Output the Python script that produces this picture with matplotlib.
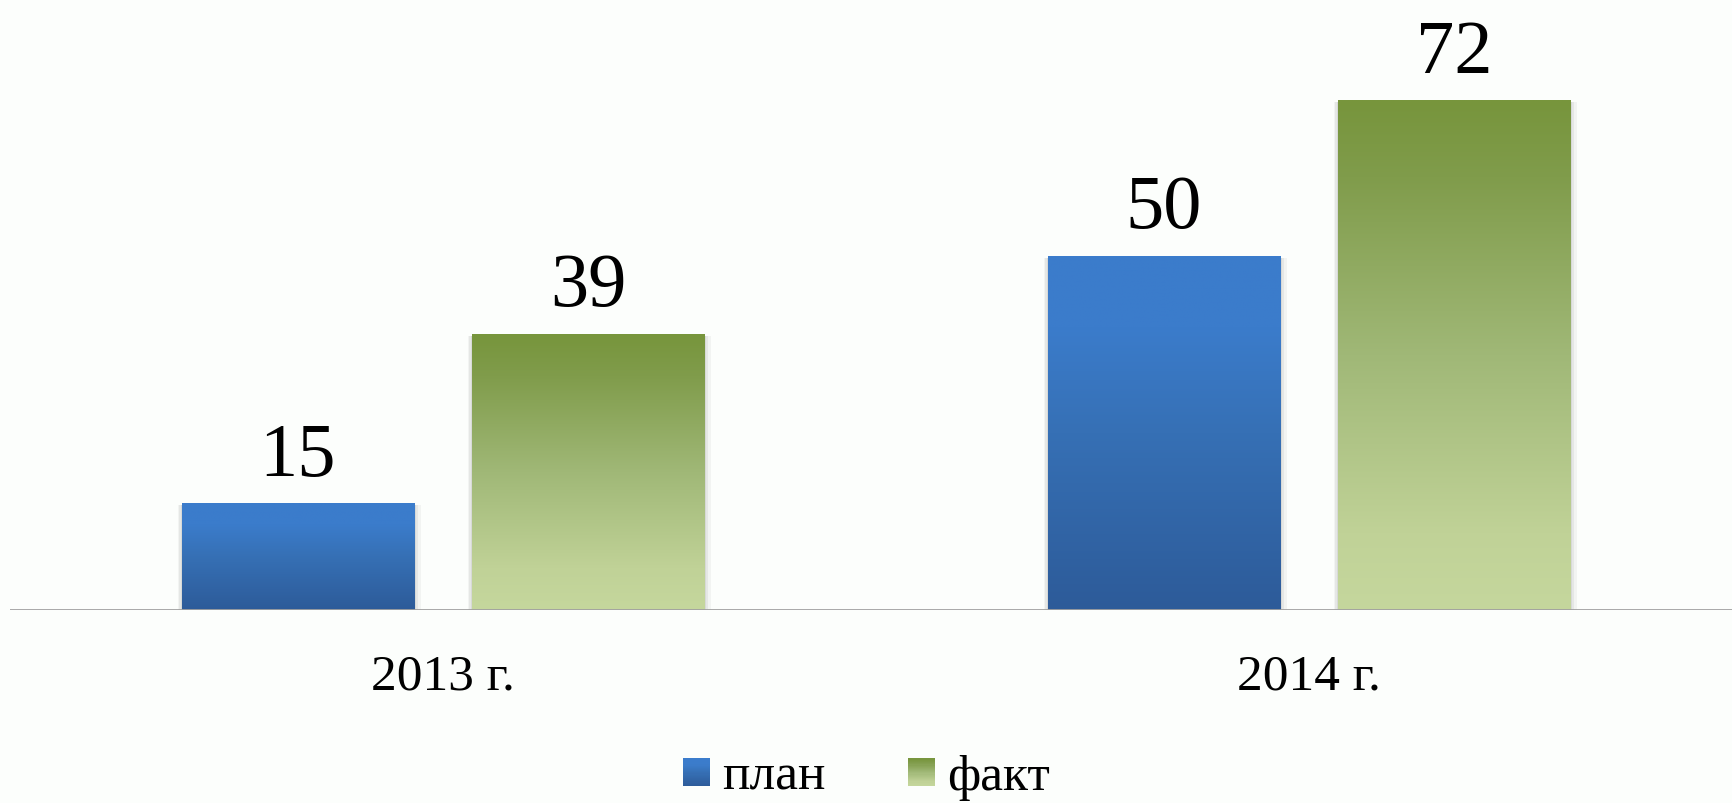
import numpy as np
import matplotlib.pyplot as plt
from matplotlib.colors import LinearSegmentedColormap
from matplotlib.legend_handler import HandlerBase
from matplotlib.patches import Rectangle, Patch

categories = ['2013 г.', '2014 г.']
plan = [15, 50]
fact = [39, 72]
series_names = ['план', 'факт']

plt.rcParams['font.family'] = ['Liberation Serif', 'DejaVu Serif']

# gradients go bottom -> top
blue_cmap = LinearSegmentedColormap.from_list(
    'b', [(0, '#2D5B99'), (0.5, '#3670B5'), (0.8, '#3B7CCB'), (1, '#3B7CCC')])
green_cmap = LinearSegmentedColormap.from_list(
    'g', [(0, '#C5D79D'), (0.15, '#C0D297'), (0.5, '#A0B877'), (0.85, '#809C4B'), (1, '#77953C')])

fig = plt.figure(figsize=(17.33, 8.04), dpi=100, facecolor='#FCFEFC')
ax = fig.add_axes([10 / 1733, 1 - 611 / 804, 1723 / 1733, 611 / 804])
ax.set_facecolor('#FCFEFC')

x = np.arange(len(categories))
w = 0.268
off = 0.1675
grad = np.linspace(0, 1, 256).reshape(-1, 1)


def gradient_bars(xs, vals, cmap):
    for xc, v in zip(xs, vals):
        # soft shadow around the bar
        for k, a in [(0.008, 0.04), (0.005, 0.05), (0.0025, 0.06)]:
            ax.add_patch(Rectangle((xc - w / 2 - k * 0.6, 0), w + k * 1.6, v - 0.2,
                                   facecolor='#000000', alpha=a, edgecolor='none', zorder=1))
        ax.imshow(grad, cmap=cmap, extent=[xc - w / 2, xc + w / 2, 0, v],
                  origin='lower', aspect='auto', zorder=2)
        ax.annotate(str(v), (xc, v), xytext=(0, 21), textcoords='offset points',
                    ha='center', va='baseline', fontsize=55)


gradient_bars(x - off, plan, blue_cmap)
gradient_bars(x + off, fact, green_cmap)

ax.set_xlim(-0.5, 1.4896)
ax.set_ylim(0, 86.4)
ax.set_aspect('auto')
ax.axhline(0, color='#A0A0A0', lw=2, zorder=3)
for s in ax.spines.values():
    s.set_visible(False)
ax.set_yticks([])
ax.set_xticks(x)
ax.set_xticklabels(categories, fontsize=37)
ax.tick_params(axis='x', length=0, pad=31)


class GradHandler(HandlerBase):
    def __init__(self, cmap):
        super().__init__()
        self.cmap = cmap

    def create_artists(self, legend, orig, xd, yd, width, height, fontsize, trans):
        n = 24
        arts = []
        side = width
        y0 = yd + (height - side) / 2 - 1
        for i in range(n):
            r = Rectangle((xd, y0 + side * i / n), side, side / n + 0.3,
                          facecolor=self.cmap((i + 0.5) / n), edgecolor='none', transform=trans)
            arts.append(r)
        return arts


h1 = Patch(label=series_names[0])
h2 = Patch(label=series_names[1])
fig.legend([h1, h2], series_names, loc='center', bbox_to_anchor=(0.5, 0.033),
           ncol=2, frameon=False, fontsize=37, handlelength=0.53, handletextpad=0.24,
           columnspacing=1.6, borderpad=0,
           handler_map={h1: GradHandler(blue_cmap), h2: GradHandler(green_cmap)})

fig.savefig('out.png', dpi=100, facecolor=fig.get_facecolor())
